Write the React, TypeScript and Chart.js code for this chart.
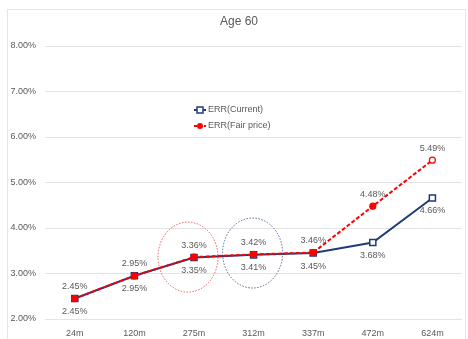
import { useEffect, useRef } from 'react';
import { Chart, registerables } from 'chart.js';

Chart.register(...registerables);

// Term categories and the two ERR series (in %)
const categories = ['24m', '120m', '275m', '312m', '337m', '472m', '624m'];
const errCurrent = [2.45, 2.95, 3.35, 3.41, 3.45, 3.68, 4.66];
const errFairPrice = [2.45, 2.95, 3.36, 3.42, 3.46, 4.48, 5.49];
const seriesNames = ['ERR(Current)', 'ERR(Fair price)'];
const chartTitle = 'Age 60';

// Y axis range (%)
const yMin = 2;
const yMax = 8;
const yStep = 1;

// Highlight rings: category and centre value of each ring
const ringCategories = ['275m', '312m'];
const ringCenters = [3.36, 3.45];

const FONT = "'Liberation Sans', Arial, sans-serif";
const TEXT = '#595959';
const NAVY = '#203b78';
const RED = '#ff0000';
const RING_COLORS = ['#e35a5f', '#4f6594'];
const RING_SHIFT = [-6, -1];

const fmt = (v: number) => v.toFixed(2) + '%';

const decorPlugin = {
  id: 'decor',
  beforeDraw(chart: any) {
    const ctx = chart.ctx;
    ctx.save();
    ctx.strokeStyle = '#e6e6e6';
    ctx.lineWidth = 1;
    ctx.strokeRect(7.5, 9.5, 458, 345);
    ctx.restore();
  },
  beforeDatasetsDraw(chart: any) {
    const ctx = chart.ctx;
    const xs = chart.scales.x;
    const ys = chart.scales.y;
    ctx.save();
    ctx.lineWidth = 1;
    ctx.setLineDash([1.5, 1.5]);
    ringCategories.forEach((c, i) => {
      const cx = xs.getPixelForValue(categories.indexOf(c)) + RING_SHIFT[i];
      const cy = ys.getPixelForValue(ringCenters[i]);
      ctx.strokeStyle = RING_COLORS[i];
      ctx.beginPath();
      ctx.ellipse(cx, cy, 30, 35, 0, 0, Math.PI * 2);
      ctx.stroke();
    });
    ctx.restore();
  },
  afterDatasetsDraw(chart: any) {
    const ctx = chart.ctx;
    const xs = chart.scales.x;
    const ys = chart.scales.y;
    ctx.save();
    ctx.fillStyle = TEXT;
    ctx.font = `9px ${FONT}`;
    ctx.textAlign = 'center';
    ctx.textBaseline = 'middle';
    // value labels: fair price above, current below
    errFairPrice.forEach((v, i) => {
      ctx.fillText(fmt(v), xs.getPixelForValue(i), ys.getPixelForValue(v) - 12);
    });
    errCurrent.forEach((v, i) => {
      ctx.fillText(fmt(v), xs.getPixelForValue(i), ys.getPixelForValue(v) + 13);
    });

    // legend
    const lx = 194;
    const rows = [110, 126];
    ctx.textAlign = 'left';
    // current
    ctx.strokeStyle = NAVY;
    ctx.lineWidth = 2;
    ctx.beginPath();
    ctx.moveTo(lx, rows[0]);
    ctx.lineTo(lx + 12, rows[0]);
    ctx.stroke();
    ctx.fillStyle = '#ffffff';
    ctx.lineWidth = 1.5;
    ctx.fillRect(lx + 3, rows[0] - 3, 6, 6);
    ctx.strokeRect(lx + 3, rows[0] - 3, 6, 6);
    // fair price
    ctx.strokeStyle = RED;
    ctx.lineWidth = 2;
    ctx.setLineDash([3, 2]);
    ctx.beginPath();
    ctx.moveTo(lx, rows[1]);
    ctx.lineTo(lx + 12, rows[1]);
    ctx.stroke();
    ctx.setLineDash([]);
    ctx.fillStyle = RED;
    ctx.beginPath();
    ctx.arc(lx + 6, rows[1], 3, 0, Math.PI * 2);
    ctx.fill();
    ctx.fillStyle = TEXT;
    ctx.fillText(seriesNames[0], lx + 14, rows[0]);
    ctx.fillText(seriesNames[1], lx + 14, rows[1]);

    // title
    ctx.textAlign = 'center';
    ctx.font = `12px ${FONT}`;
    ctx.fillText(chartTitle, 239, 22);
    ctx.restore();
  },
};

export default function App() {
  const ref = useRef<HTMLCanvasElement>(null);

  useEffect(() => {
    if (!ref.current) return;
    const chart = new Chart(ref.current, {
      type: 'line',
      data: {
        labels: categories,
        datasets: [
          {
            label: seriesNames[1],
            data: errFairPrice,
            borderColor: RED,
            borderWidth: 2,
            borderDash: [4, 2],
            pointStyle: 'circle',
            pointRadius: 3,
            pointBorderWidth: 1.2,
            pointBorderColor: RED,
            pointBackgroundColor: errFairPrice.map((_, i) =>
              i === errFairPrice.length - 1 ? '#ffffff' : RED
            ),
            tension: 0,
          },
          {
            label: seriesNames[0],
            data: errCurrent,
            borderColor: NAVY,
            borderWidth: 2,
            pointStyle: 'rect',
            pointRadius: 4.3,
            pointBorderWidth: 1.5,
            pointBorderColor: NAVY,
            pointBackgroundColor: '#ffffff',
            tension: 0,
          },
        ],
      },
      options: {
        responsive: false,
        animation: false,
        layout: { padding: { top: 46, right: 3, left: 0, bottom: 0 } },
        plugins: {
          legend: { display: false },
          title: { display: false },
          tooltip: { enabled: false },
        },
        scales: {
          x: {
            offset: true,
            grid: { display: false, drawTicks: false },
            border: { display: false },
            ticks: {
              color: TEXT,
              font: { family: FONT, size: 9 },
              padding: 9,
              maxRotation: 0,
            },
            afterFit(scale: any) {
              scale.height = 20;
            },
          },
          y: {
            min: yMin,
            max: yMax,
            grid: { color: '#e3e3e3', drawTicks: false },
            border: { display: false },
            ticks: {
              stepSize: yStep,
              color: TEXT,
              font: { family: FONT, size: 9 },
              padding: 9,
              callback: (v: any) => fmt(Number(v)),
            },
            afterFit(scale: any) {
              scale.width = 45;
            },
          },
        },
      },
      plugins: [decorPlugin],
    });
    return () => chart.destroy();
  }, []);

  return (
    <div style={{ position: 'absolute', left: 0, top: 0, width: 468, height: 339, background: '#fff' }}>
      <canvas ref={ref} width={468} height={339} style={{ display: 'block' }} />
    </div>
  );
}
